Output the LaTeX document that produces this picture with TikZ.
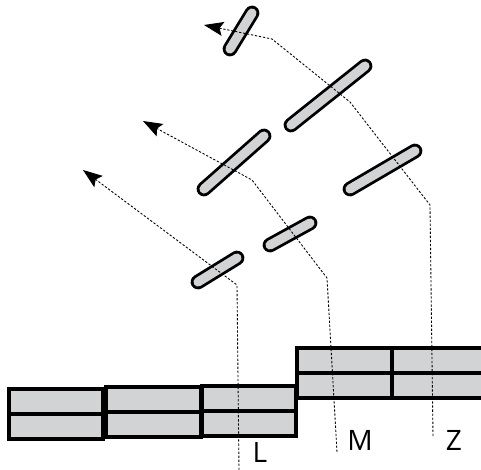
\documentclass[tikz,border=0pt]{standalone}
\usepackage{fontspec}
\setmainfont{Open Sans}
\usetikzlibrary{arrows.meta}
\definecolor{platte}{RGB}{209,211,212}
\begin{document}
\begin{tikzpicture}[x=0.02cm, y=-0.02cm,
    block/.style={draw, line width=2pt, fill=platte},
    mirror/.style={draw=black, line width=1.6pt, double=platte, double distance=5.2pt, line cap=round},
    ray/.style={line width=0.5pt, dash pattern=on 1.3pt off 1pt},
    lbl/.style={font=\fontsize{16}{18}\selectfont}]
  \useasboundingbox (0,0) rectangle (481,470);
  % Schichten
  \foreach \x/\y/\w in {9/389/94, 106/387/95, 202/386/94, 297/348/95, 392/348/95}{
    \draw[block] (\x,\y) rectangle ++(\w,25) ++(-\w,0) rectangle ++(\w,25);
    \draw[line width=2.8pt] (\x,\y+25) -- ++(\w,0);
  }
  % Spiegel
  \draw[mirror] (252,13) -- (230,49);
  \draw[mirror] (365,66) -- (291,125);
  \draw[mirror] (264,136) -- (204,189);
  \draw[mirror] (415,151) -- (350,189);
  \draw[mirror] (310,223) -- (270,245);
  \draw[mirror] (237,258) -- (198,282);
  % Strahlen
  \coordinate (l0) at (239,470); \coordinate (l1) at (237,285); \coordinate (l2) at (83,170);
  \coordinate (m0) at (337,452); \coordinate (m1) at (327,278); \coordinate (m2) at (252,180); \coordinate (m3) at (143,121);
  \coordinate (z0) at (433,436); \coordinate (z1) at (430,205); \coordinate (z2) at (350,102); \coordinate (z3) at (272,39); \coordinate (z4) at (204,25);
  \draw[ray, -{Stealth[length=11pt, width=8pt, inset=2pt]}] (l0) -- (l1) -- (l2);
  \draw[ray, -{Stealth[length=11pt, width=8pt, inset=2pt]}] (m0) -- (m1) -- (m2) -- (m3);
  \draw[ray, -{Stealth[length=11pt, width=8pt, inset=2pt]}] (z0) -- (z1) -- (z2) -- (z3) -- (z4);
  \node[lbl] (L) at (260,452) {L};
  \node[lbl] (M) at (360,440) {M};
  \node[lbl] (Z) at (454,440) {Z};
\end{tikzpicture}
\end{document}
